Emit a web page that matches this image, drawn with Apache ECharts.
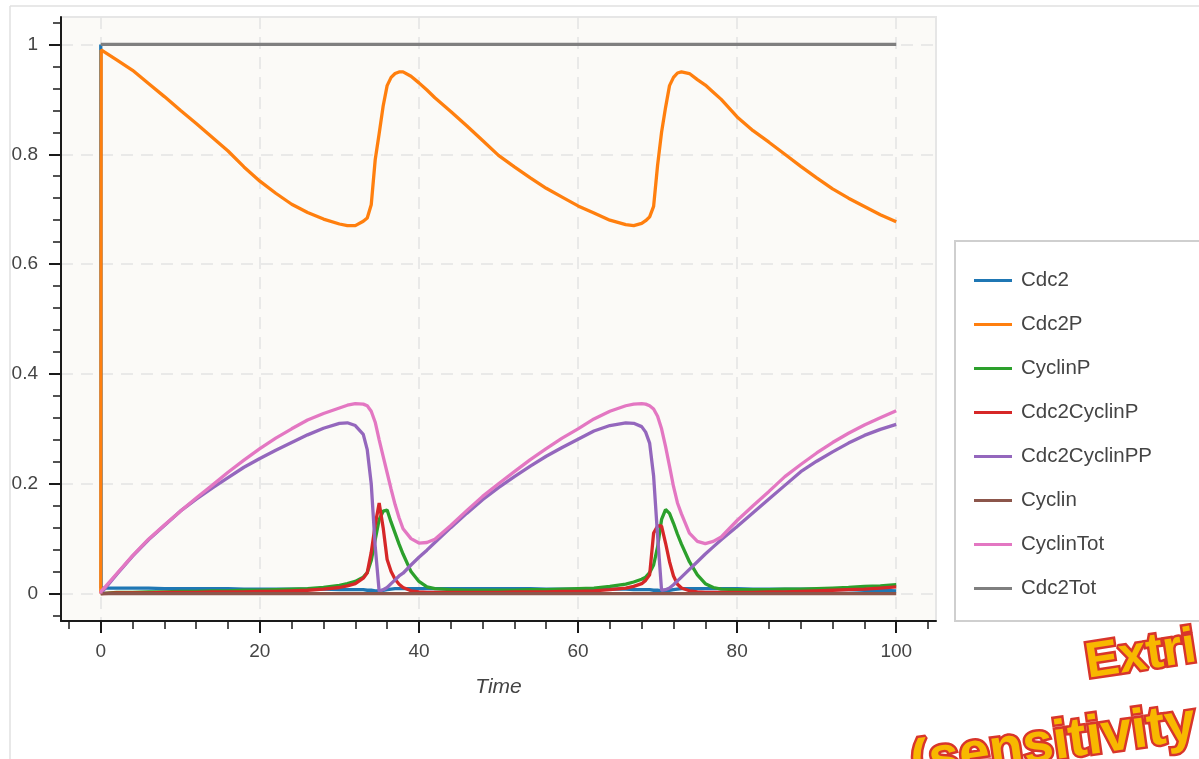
<!DOCTYPE html>
<html>
<head>
<meta charset="utf-8">
<title>Cdc2 / Cyclin</title>
<script src="https://cdn.jsdelivr.net/npm/echarts@6.0.0/dist/echarts.min.js"></script>
<style>
	html, body { margin: 0; padding: 0; background: #ffffff; }
	#echartsDiv { width: 1199px; height: 759px; }
</style>
</head>
<body>
<div id="echartsDiv"></div>
<script>
/*************************** 数据 ***************************/
// 时间点（非均匀，转折处取得密一些）
var time = [
	0, 0.05, 2, 4, 6, 8, 10, 12, 14, 16,
	18, 20, 22, 24, 26, 28, 30, 31, 32, 33,
	33.5, 34, 34.5, 35, 35.5, 36, 36.5, 37, 37.5, 38,
	39, 40, 41, 42, 44, 46, 48, 50, 52, 54,
	56, 58, 60, 62, 64, 66, 67, 68, 68.5, 69,
	69.5, 70, 70.5, 71, 71.5, 72, 72.5, 73, 74, 75,
	76, 77, 78, 80, 82, 84, 86, 88, 90, 92,
	94, 96, 98, 100
];

var cdc2 = [
	1, 0.010, 0.010, 0.010, 0.010, 0.009, 0.009, 0.009, 0.009, 0.009,
	0.008, 0.008, 0.008, 0.008, 0.008, 0.008, 0.007, 0.007, 0.007, 0.007,
	0.006, 0.006, 0.005, 0.005, 0.006, 0.007, 0.008, 0.009, 0.009, 0.009,
	0.009, 0.009, 0.009, 0.009, 0.009, 0.009, 0.009, 0.009, 0.009, 0.009,
	0.008, 0.008, 0.008, 0.008, 0.008, 0.008, 0.007, 0.007, 0.007, 0.007,
	0.006, 0.006, 0.005, 0.005, 0.006, 0.007, 0.008, 0.009, 0.009, 0.009,
	0.009, 0.009, 0.009, 0.009, 0.008, 0.008, 0.008, 0.008, 0.008, 0.007,
	0.007, 0.006, 0.006, 0.005
];

var cdc2P = [
	0, 0.990, 0.972, 0.953, 0.929, 0.905, 0.880, 0.856, 0.831, 0.806,
	0.777, 0.751, 0.729, 0.709, 0.694, 0.682, 0.673, 0.670, 0.670, 0.678,
	0.684, 0.708, 0.790, 0.838, 0.888, 0.925, 0.940, 0.947, 0.950, 0.950,
	0.942, 0.930, 0.917, 0.903, 0.878, 0.852, 0.825, 0.798, 0.777, 0.757,
	0.738, 0.722, 0.706, 0.693, 0.680, 0.672, 0.670, 0.674, 0.679, 0.686,
	0.705, 0.780, 0.840, 0.885, 0.925, 0.940, 0.948, 0.950, 0.947, 0.936,
	0.926, 0.913, 0.900, 0.868, 0.843, 0.822, 0.800, 0.778, 0.757, 0.737,
	0.720, 0.705, 0.690, 0.677
];

var cyclinP = [
	0, 0.001, 0.002, 0.002, 0.003, 0.003, 0.004, 0.004, 0.005, 0.005,
	0.006, 0.006, 0.007, 0.008, 0.009, 0.011, 0.015, 0.018, 0.022, 0.030,
	0.038, 0.060, 0.098, 0.135, 0.150, 0.152, 0.130, 0.110, 0.090, 0.072,
	0.040, 0.022, 0.012, 0.009, 0.007, 0.006, 0.006, 0.006, 0.006, 0.007,
	0.007, 0.008, 0.009, 0.010, 0.013, 0.017, 0.021, 0.026, 0.030, 0.038,
	0.052, 0.085, 0.135, 0.153, 0.146, 0.128, 0.108, 0.090, 0.058, 0.034,
	0.018, 0.011, 0.008, 0.007, 0.007, 0.007, 0.008, 0.008, 0.009, 0.010,
	0.011, 0.013, 0.014, 0.016
];

var cdc2CyclinP = [
	0, 0, 0.001, 0.001, 0.001, 0.002, 0.002, 0.002, 0.003, 0.003,
	0.003, 0.004, 0.004, 0.005, 0.006, 0.008, 0.011, 0.014, 0.018, 0.028,
	0.038, 0.075, 0.125, 0.165, 0.120, 0.062, 0.040, 0.026, 0.017, 0.011,
	0.005, 0.003, 0.002, 0.002, 0.002, 0.002, 0.002, 0.002, 0.003, 0.003,
	0.003, 0.004, 0.004, 0.005, 0.007, 0.010, 0.013, 0.018, 0.024, 0.034,
	0.110, 0.123, 0.123, 0.092, 0.058, 0.032, 0.017, 0.010, 0.005, 0.003,
	0.002, 0.002, 0.002, 0.002, 0.002, 0.003, 0.003, 0.004, 0.005, 0.006,
	0.007, 0.008, 0.010, 0.012
];

var cdc2CyclinPP = [
	0, 0.003, 0.035, 0.068, 0.098, 0.124, 0.150, 0.172, 0.192, 0.211,
	0.230, 0.246, 0.261, 0.275, 0.289, 0.301, 0.310, 0.311, 0.306, 0.290,
	0.262, 0.200, 0.086, 0.004, 0.007, 0.011, 0.018, 0.025, 0.032, 0.037,
	0.052, 0.066, 0.079, 0.093, 0.120, 0.146, 0.171, 0.193, 0.213, 0.232,
	0.250, 0.266, 0.281, 0.296, 0.306, 0.311, 0.310, 0.304, 0.294, 0.274,
	0.214, 0.105, 0.006, 0.007, 0.010, 0.016, 0.023, 0.030, 0.044, 0.058,
	0.072, 0.085, 0.098, 0.122, 0.147, 0.172, 0.197, 0.222, 0.241, 0.258,
	0.274, 0.288, 0.299, 0.308
];

var cyclinTot = [
	0, 0.004, 0.036, 0.069, 0.099, 0.125, 0.150, 0.174, 0.197, 0.221,
	0.243, 0.264, 0.283, 0.300, 0.316, 0.328, 0.338, 0.343, 0.346, 0.345,
	0.342, 0.332, 0.312, 0.280, 0.250, 0.220, 0.190, 0.162, 0.138, 0.118,
	0.100, 0.092, 0.093, 0.099, 0.124, 0.151, 0.177, 0.200, 0.222, 0.244,
	0.264, 0.283, 0.300, 0.318, 0.332, 0.342, 0.345, 0.346, 0.345, 0.342,
	0.336, 0.323, 0.300, 0.268, 0.232, 0.195, 0.165, 0.145, 0.110, 0.095,
	0.091, 0.095, 0.103, 0.133, 0.160, 0.186, 0.213, 0.235, 0.256, 0.275,
	0.292, 0.307, 0.320, 0.333
];

// Cyclin 与 Cdc2Tot 为常值线，只取首尾两点
var flatTime = [0, 100];
var cyclin = [0, 0];
var cdc2Tot = [1, 1];

// 刻度
var xMajorTicks = [0, 20, 40, 60, 80, 100];
var xMinorTicks = [-4, 4, 8, 12, 16, 24, 28, 32, 36, 44, 48, 52, 56, 64, 68, 72, 76, 84, 88, 92, 96, 104];
var yMajorTicks = [0, 0.2, 0.4, 0.6, 0.8, 1];
var yMinorTicks = [-0.04, 0.04, 0.08, 0.12, 0.16, 0.24, 0.28, 0.32, 0.36, 0.44, 0.48, 0.52, 0.56,
	0.64, 0.68, 0.72, 0.76, 0.84, 0.88, 0.92, 0.96, 1.04];

var seriesNames = ['Cdc2', 'Cdc2P', 'CyclinP', 'Cdc2CyclinP', 'Cdc2CyclinPP', 'Cyclin', 'CyclinTot', 'Cdc2Tot'];

/**
 * 初始化函数
 */
window.onload = function() {
	createEcharts();
};

/**
 * 把时间和数值拼成 [x, y] 点
 */
function toPairs(xs, ys) {
	var data = [];
	for (var i = 0; i < xs.length; i++) {
		data.push([xs[i], ys[i]]);
	}
	return data;
}

/**
 * 生成一条折线
 */
function lineSeries(name, color, xs, ys) {
	return {
		name : name,
		type : 'line',
		xAxisIndex : 0,
		yAxisIndex : 0,
		data : toPairs(xs, ys),
		symbol : 'none',
		showSymbol : false,
		color : color,
		lineStyle : { width : 3.3, color : color },
		emphasis : { disabled : true },
		animation : false
	};
}

/**
 * 幻灯片上的装饰文字
 */
function slideText(text, x, y, size, rotation) {
	return {
		type : 'text',
		silent : true,
		z : 100,
		x : x,
		y : y,
		rotation : rotation,
		style : {
			text : text,
			font : 'bold ' + size + 'px "Liberation Sans"',
			fill : '#f8b800',
			stroke : '#d8352b',
			lineWidth : 5,
			strokeFirst : true,
			textAlign : 'left',
			textVerticalAlign : 'middle',
			align : 'left',
			verticalAlign : 'middle',
			shadowColor : 'rgba(0,0,0,0.35)',
			shadowBlur : 3,
			shadowOffsetX : 1,
			shadowOffsetY : 2
		}
	};
}

/**
 * 生成图表
 */
function createEcharts() {
	var myChart = echarts.init(document.getElementById('echartsDiv'));
	var axisColor = '#1a1a1a';
	var labelFont = 'Liberation Sans';

	var option = {
		animation : false,
		backgroundColor : '#ffffff',
		grid : {
			left : 61,
			right : 263,
			top : 17,
			bottom : 138,
			show : true,
			backgroundColor : '#fbfaf7',
			borderColor : '#e6e6e6',
			borderWidth : 2,
			containLabel : false,
			outerBoundsMode : 'none'
		},
		legend : {
			orient : 'vertical',
			left : 974,
			top : 270,
			padding : 0,
			itemWidth : 38,
			itemHeight : 3,
			itemGap : 23,
			icon : 'rect',
			selectedMode : false,
			z : 10,
			textStyle : {
				fontSize : 20.5,
				lineHeight : 20,
				color : '#444',
				fontFamily : labelFont,
				padding : [0, 0, 0, 4]
			},
			data : seriesNames
		},
		xAxis : [{
			type : 'value',
			min : -5,
			max : 105,
			name : 'Time',
			nameLocation : 'middle',
			nameGap : 56,
			nameTextStyle : { fontStyle : 'italic', fontSize : 21, color : '#444', fontFamily : labelFont },
			axisLine : { show : true, onZero : false, lineStyle : { color : axisColor, width : 2 } },
			axisTick : { show : true, customValues : xMajorTicks, length : 12, lineStyle : { color : axisColor, width : 2 } },
			axisLabel : { customValues : xMajorTicks, margin : 21, fontSize : 19, color : '#444', fontFamily : labelFont },
			splitLine : { show : true, lineStyle : { color : '#e4e4e4', width : 1.5, type : [12, 8] } }
		}, {
			type : 'value',
			min : -5,
			max : 105,
			position : 'bottom',
			axisLine : { show : false, onZero : false },
			axisTick : { show : true, customValues : xMinorTicks, length : 8, lineStyle : { color : axisColor, width : 1.5 } },
			axisLabel : { show : false },
			splitLine : { show : false }
		}],
		yAxis : [{
			type : 'value',
			min : -0.05,
			max : 1.05,
			axisLine : { show : true, onZero : false, lineStyle : { color : axisColor, width : 2 } },
			axisTick : { show : true, customValues : yMajorTicks, length : 12, lineStyle : { color : axisColor, width : 2 } },
			axisLabel : {
				customValues : yMajorTicks,
				margin : 23,
				fontSize : 19,
				color : '#444',
				fontFamily : labelFont,
				formatter : function(val) {
					return String(+Number(val).toFixed(2));
				}
			},
			splitLine : { show : true, lineStyle : { color : '#e4e4e4', width : 1.5, type : [12, 8] } }
		}, {
			type : 'value',
			min : -0.05,
			max : 1.05,
			position : 'left',
			axisLine : { show : false, onZero : false },
			axisTick : { show : true, customValues : yMinorTicks, length : 8, lineStyle : { color : axisColor, width : 1.5 } },
			axisLabel : { show : false },
			splitLine : { show : false }
		}],
		graphic : [
			// 页面外框
			{ type : 'line', silent : true, shape : { x1 : 10, y1 : 6, x2 : 1199, y2 : 6 }, style : { stroke : '#e0e0e0', lineWidth : 1.5 } },
			{ type : 'line', silent : true, shape : { x1 : 10, y1 : 6, x2 : 10, y2 : 759 }, style : { stroke : '#e0e0e0', lineWidth : 1.5 } },
			// 图例外框
			{ type : 'rect', silent : true, z : 1, shape : { x : 955, y : 241, width : 280, height : 380 },
				style : { fill : '#ffffff', stroke : '#cfcfcf', lineWidth : 2 } },
			slideText('Extri', 1086, 664, 50, 0.15),
			slideText('(sensitivity', 911, 764, 55, 0.14)
		],
		series : [
			lineSeries('Cdc2', '#1f77b4', time, cdc2),
			lineSeries('Cdc2P', '#ff7f0e', time, cdc2P),
			lineSeries('CyclinP', '#2ca02c', time, cyclinP),
			lineSeries('Cdc2CyclinP', '#d62728', time, cdc2CyclinP),
			lineSeries('Cdc2CyclinPP', '#9467bd', time, cdc2CyclinPP),
			lineSeries('Cyclin', '#8c564b', flatTime, cyclin),
			lineSeries('CyclinTot', '#e377c2', time, cyclinTot),
			lineSeries('Cdc2Tot', '#7f7f7f', flatTime, cdc2Tot)
		]
	};

	myChart.setOption(option);
}
</script>
</body>
</html>
